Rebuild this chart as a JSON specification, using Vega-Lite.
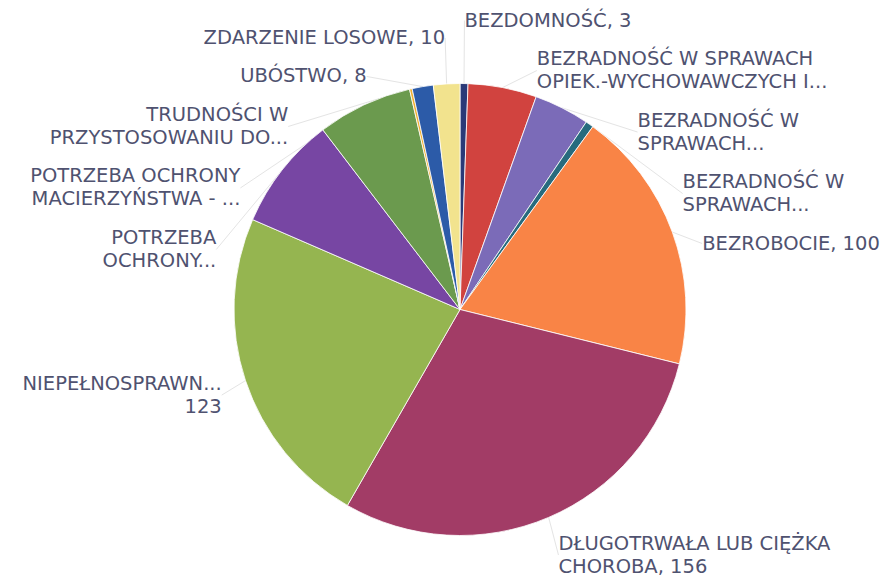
{
  "$schema": "https://vega.github.io/schema/vega-lite/v6.json",
  "width": 844,
  "height": 539,
  "autosize": {"type": "none"},
  "padding": {"left": 38, "top": 40, "right": 0, "bottom": 0},
  "background": "white",
  "config": {"view": {"stroke": null}},
  "data": {
    "values": [
      {"n": 1, "cat": "bezdomnosc", "label": "BEZDOMNOŚĆ, 3", "value": 3},
      {"n": 2, "cat": "opiek", "label": "BEZRADNOŚĆ W SPRAWACH\nOPIEK.-WYCHOWAWCZYCH I...", "value": 26},
      {"n": 3, "cat": "bezradnosc2", "label": "BEZRADNOŚĆ W\nSPRAWACH...", "value": 21},
      {"n": 4, "cat": "bezradnosc3", "label": "BEZRADNOŚĆ W\nSPRAWACH...", "value": 3},
      {"n": 5, "cat": "bezrobocie", "label": "BEZROBOCIE, 100", "value": 100},
      {"n": 6, "cat": "choroba", "label": "DŁUGOTRWAŁA LUB CIĘŻKA\nCHOROBA, 156", "value": 156},
      {"n": 7, "cat": "niepelnosprawnosc", "label": "NIEPEŁNOSPRAWN...\n123", "value": 123},
      {"n": 8, "cat": "potrzeba", "label": "POTRZEBA\nOCHRONY...", "value": 43},
      {"n": 9, "cat": "macierzynstwo", "label": "POTRZEBA OCHRONY\nMACIERZYŃSTWA - ...", "value": 36},
      {"n": 10, "cat": "trudnosci", "label": "TRUDNOŚCI W\nPRZYSTOSOWANIU DO...", "value": 1},
      {"n": 11, "cat": "ubostwo", "label": "UBÓSTWO, 8", "value": 8},
      {"n": 12, "cat": "zdarzenie", "label": "ZDARZENIE LOSOWE, 10", "value": 10}
    ]
  },
  "transform": [
    {"joinaggregate": [{"op": "sum", "field": "value", "as": "total"}]},
    {"window": [{"op": "sum", "field": "value", "as": "cum"}], "sort": [{"field": "n", "order": "ascending"}], "frame": [null, 0]},
    {"calculate": "2 * PI * (datum.cum - datum.value / 2) / datum.total", "as": "ang"},
    {"calculate": "sin(datum.ang) >= 0 ? 'R' : 'L'", "as": "side"},
    {"calculate": "23 * length(split(datum.label, '\\n'))", "as": "h"},
    {"calculate": "269.5 - (datum.side == 'R' ? 289 : 272) * cos(datum.ang)", "as": "iy"},
    {"window": [{"op": "sum", "field": "h", "as": "H"}, {"op": "row_number", "as": "rn"}], "groupby": ["side"], "sort": [{"field": "iy", "order": "ascending"}], "frame": [null, 0]},
    {"calculate": "datum.H - datum.h / 2 + (datum.rn - 1) * 15.5", "as": "c"},
    {"calculate": "datum.iy - datum.c", "as": "d"},
    {"window": [{"op": "max", "field": "d", "as": "dmax"}], "groupby": ["side"], "sort": [{"field": "iy", "order": "ascending"}], "frame": [null, 0]},
    {"calculate": "min(datum.c + datum.dmax, 539 - datum.h / 2 - 1)", "as": "ly"},
    {"calculate": "datum.ly - (datum.h - 23) / 2", "as": "ty"},
    {"calculate": "datum.ly > datum.iy + 1 ? 422 + (datum.side == 'R' ? 1 : -1) * sqrt(max(0, 251 * 251 - pow(datum.ly - 269.5, 2))) : 422 + 251 * sin(datum.ang)", "as": "lx"},
    {"calculate": "422 + 226 * sin(datum.ang)", "as": "ex"},
    {"calculate": "269.5 - 226 * cos(datum.ang)", "as": "ey"}
  ],
  "layer": [
    {
      "mark": {"type": "rule", "stroke": "#e4e4e4", "strokeWidth": 1},
      "encoding": {
        "x": {"field": "ex", "type": "quantitative", "scale": null, "axis": null},
        "y": {"field": "ey", "type": "quantitative", "scale": null, "axis": null},
        "x2": {"field": "lx"},
        "y2": {"field": "ly"}
      }
    },
    {
      "mark": {"type": "arc", "outerRadius": 226, "stroke": "white", "strokeWidth": 0.8},
      "encoding": {
        "theta": {"field": "value", "type": "quantitative", "stack": true},
        "order": {"field": "n", "type": "quantitative"},
        "color": {
          "field": "cat",
          "type": "nominal",
          "legend": null,
          "scale": {
            "domain": ["bezdomnosc", "opiek", "bezradnosc2", "bezradnosc3", "bezrobocie", "choroba", "niepelnosprawnosc", "potrzeba", "macierzynstwo", "trudnosci", "ubostwo", "zdarzenie"],
            "range": ["#2b3a78", "#d1433f", "#7b6bb8", "#276b7e", "#f98446", "#a23c66", "#95b550", "#7746a3", "#6b9a4e", "#f0b030", "#2c5ba8", "#f2e38e"]
          }
        }
      }
    },
    {
      "transform": [{"filter": "datum.side == 'R'"}],
      "mark": {"type": "text", "align": "left", "baseline": "middle", "lineBreak": "\n", "font": "DejaVu Sans", "fontSize": 19.5, "lineHeight": 23, "fill": "#4f5270"},
      "encoding": {
        "x": {"field": "lx", "type": "quantitative", "scale": null, "axis": null},
        "y": {"field": "ty", "type": "quantitative", "scale": null, "axis": null},
        "text": {"field": "label"}
      }
    },
    {
      "transform": [{"filter": "datum.side == 'L'"}],
      "mark": {"type": "text", "align": "right", "baseline": "middle", "lineBreak": "\n", "font": "DejaVu Sans", "fontSize": 19.5, "lineHeight": 23, "fill": "#4f5270"},
      "encoding": {
        "x": {"field": "lx", "type": "quantitative", "scale": null, "axis": null},
        "y": {"field": "ty", "type": "quantitative", "scale": null, "axis": null},
        "text": {"field": "label"}
      }
    }
  ]
}
